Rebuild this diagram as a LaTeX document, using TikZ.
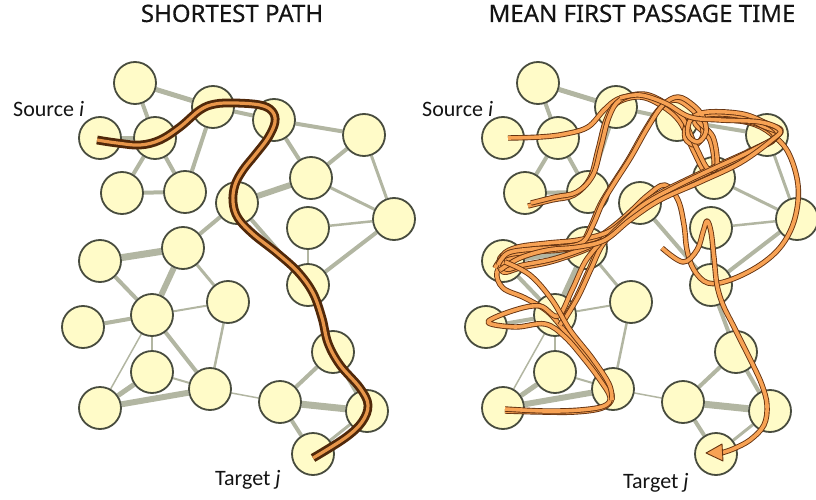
\documentclass[tikz,border=0pt]{standalone}
\usepackage{fontspec}
\setmainfont{Carlito}
\newfontfamily\titlefont[FakeBold=0.4]{Noto Sans}
\pgfdeclarelayer{bg}
\pgfsetlayers{bg,main}
\definecolor{nodefill}{RGB}{255,251,200}
\definecolor{nodeline}{RGB}{72,76,62}
\definecolor{edgecol}{RGB}{178,182,162}
\definecolor{pathbrown}{RGB}{80,40,10}
\definecolor{pathorange}{RGB}{232,150,74}
\definecolor{walkorange}{RGB}{247,162,84}
\definecolor{walkbrown}{RGB}{100,50,16}
\definecolor{txt}{RGB}{20,20,20}
\begin{document}
\begin{tikzpicture}[x=1pt,y=-1pt,
  vertex/.style={circle,minimum size=42pt,inner sep=0pt,fill=nodefill,draw=nodeline,line width=1.8pt},
  edge/.style={draw=edgecol,line cap=butt},
  shortpath/.style={draw=pathbrown,line width=2.8pt,double=pathorange,double distance=3.2pt,line cap=butt,line join=round},
  walk/.style={draw=walkbrown,line width=0.9pt,double=walkorange,double distance=3.6pt,line join=round},
  title/.style={font=\titlefont\fontsize{24}{28}\selectfont,text=txt,inner sep=0pt,anchor=base},
  lab/.style={font=\fontsize{22}{26}\selectfont,text=txt,inner sep=0pt,anchor=base west}]
\useasboundingbox (0,0) rectangle (816,500);

\foreach \n/\x/\y in {1/135/83, 2/100/138, 3/155/138, 4/213/107, 5/274/120, 6/122/193,
  7/185/192, 8/237/203, 9/311/178, 10/364/135, 11/394/219, 12/308/228, 13/100/261,
  14/183/248, 15/308/285, 16/83/327, 17/152/315, 18/228/302, 19/152/372, 20/100/408,
  21/210/389, 22/333/352, 23/280/402, 24/367/411, 25/313/454} {
  \node[vertex] (L\n) at (\x,\y) {};
  \node[vertex] (R\n) at (\x+403,\y) {};
}

\begin{pgfonlayer}{bg}
\foreach \a/\b/\w in {1/3/4, 1/4/5, 2/3/4, 3/6/4, 3/7/4, 6/7/4, 4/7/4, 4/5/4, 5/9/4,
  5/10/4, 9/10/4, 10/11/3, 9/11/3, 8/9/6, 12/11/2.5, 12/15/2, 11/15/4, 8/15/4, 8/14/4,
  13/14/7, 13/17/4, 14/17/6, 16/17/4, 17/18/2, 17/19/2, 17/20/1.5, 17/21/4, 19/20/5,
  19/21/2, 20/21/6, 14/18/3, 18/21/2.5, 21/23/1.5, 23/22/4, 23/24/7, 23/25/4, 22/24/4,
  15/22/4, 24/25/3} {
  \draw[edge,line width=\w pt] (L\a) -- (L\b);
  \draw[edge,line width=\w pt] (R\a) -- (R\b);
}
\end{pgfonlayer}

% shortest path
\draw[shortpath] plot[smooth,tension=0.6] coordinates {(97,140) (117,143) (140,145) (160,140)
  (180,127) (200,110) (215,104) (235,103) (260,105) (272,111) (275,122) (268,138) (255,155)
  (243,170) (235,185) (233,202) (238,218) (253,234) (277,253) (298,272) (313,293) (322,318)
  (328,343) (340,365) (360,388) (368,405) (362,422) (345,438) (313,458)};

% random walk
\draw[walk] plot[smooth,tension=0.6] coordinates {(508,138) (540,137) (565,134) (588,127)
  (604,110) (618,99) (636,96) (655,100) (672,110) (690,118) (720,119) (750,123) (770,133)
  (788,152) (798,185) (795,218) (782,245) (760,265) (730,280) (708,283) (694,270) (687,250)
  (684,225) (678,200) (665,185) (648,195) (632,210) (615,225) (595,238) (565,245) (535,250)
  (510,258) (497,272) (503,288) (525,298) (548,312) (568,335) (590,360) (606,382) (612,398)
  (602,408) (575,412) (540,412) (505,411)};
\foreach \dx/\dy in {0/0, 3/-3} {
\begin{scope}[shift={(\dx,\dy)}]
\draw[walk] plot[smooth,tension=0.6] coordinates {(528,206) (552,200) (574,195) (590,178)
  (598,150) (606,120) (617,103) (640,97) (662,106) (680,122) (693,150) (705,172) (714,168)
  (710,140) (695,122) (720,117) (760,125) (775,138) (755,150) (720,166) (685,182) (650,200)
  (625,220) (605,235) (575,243) (545,246) (515,250) (500,258) (503,272) (520,268) (550,262)
  (580,252) (600,243)};
\draw[walk] plot[smooth,tension=0.6] coordinates {(560,325) (575,300) (588,272) (600,247)
  (618,228) (640,208) (672,190) (705,174) (740,158) (770,142) (778,133) (765,127) (740,117)
  (705,115) (688,122) (685,138) (695,145) (703,135) (700,120) (690,108) (675,100) (660,108)
  (645,130) (628,160) (612,185) (600,205) (590,228) (580,245) (560,250) (530,252) (505,256)
  (495,268)};
\end{scope}
}
\draw[walk] plot[smooth,tension=0.6] coordinates {(600,243) (585,262) (572,290) (558,316)
  (540,306) (515,310) (488,322) (515,327) (545,324) (565,337) (585,360) (600,380) (610,397)
  (604,406) (580,410) (545,411) (505,409)};
\draw[walk] plot[smooth,tension=0.6] coordinates {(500,270) (520,258) (548,250) (578,247)
  (605,240) (630,220) (660,200) (700,182) (740,163) (772,140) (780,130) (760,122) (720,120)
  (690,117) (665,103) (640,95) (620,98)};
\draw[walk] plot[smooth,tension=0.6] coordinates {(505,262) (530,275) (552,300) (570,330)
  (592,358) (609,384) (612,400)};
\draw[walk] plot[smooth,tension=0.6] coordinates {(662,248) (683,262) (697,250) (703,232)
  (707,221) (711,232) (714,258) (717,285) (723,305) (733,325) (743,345) (753,365) (762,385)
  (767,405) (764,425) (750,440) (733,449) (721,453)};
\draw[draw=walkbrown,line width=0.9pt,fill=walkorange,line join=round]
  (706,453) -- (722,444) -- (723,461) -- cycle;

% texts
\node[title] (t1) at (232,22) {SHORTEST PATH};
\node[title] (t2) at (642,22) {MEAN FIRST PASSAGE TIME};
\node[lab] (s1) at (13,117) {Source \textit{i}};
\node[lab] (s2) at (422,117) {Source \textit{i}};
\node[lab] (g1) at (215,485) {Target \textit{j}};
\node[lab] (g2) at (623,488) {Target \textit{j}};
\end{tikzpicture}
\end{document}
